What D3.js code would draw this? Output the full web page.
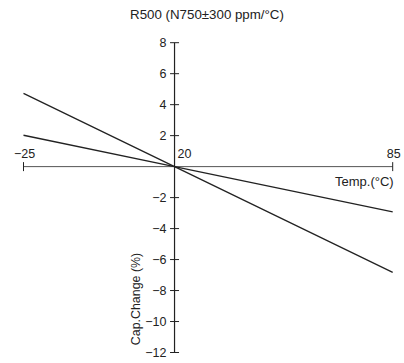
<!DOCTYPE html>
<html><head><meta charset="utf-8">
<script src="https://cdn.jsdelivr.net/npm/d3@7"></script>
<style>body{margin:0;background:#fff}svg{display:block}text{font-family:"Liberation Sans",Arial,sans-serif;fill:#222}</style>
</head><body><svg id="c" width="404" height="363"></svg>
<script>
const title = "R500 (N750±300 ppm/°C)";
const xTicks = [-25, 20, 85];
const yTicks = [8, 6, 4, 2, -2, -4, -6, -8, -10, -12];
const temps = [-25, 20, 85];
const steepLine = [4.725, 0, -6.825];
const shallowLine = [2.025, 0, -2.925];
const xLabel = "Temp.(°C)";
const yLabel = "Cap.Change (%)";

const svg = d3.select("#c");
const x = d3.scaleLinear().domain([-25, 85]).range([23.5, 392.7]);
const y = d3.scaleLinear().domain([-12, 8]).range([352.5, 42.7]);
const x0 = x(20), y0 = y(0);
const ink = "#222";

svg.append("text").attr("x", 207).attr("y", 19).attr("text-anchor", "middle")
  .style("font-size", "13.3px").text(title);

// y axis
const yAxis = svg.append("g");
yAxis.append("line").attr("x1", x0).attr("x2", x0).attr("y1", y(8)).attr("y2", y(-12))
  .attr("stroke", ink).attr("stroke-width", 1.2);
yAxis.selectAll("line.t").data(yTicks).join("line").attr("class", "t")
  .attr("x1", x0 - 4.5).attr("x2", x0 + 4.5).attr("y1", d => y(d)).attr("y2", d => y(d))
  .attr("stroke", ink).attr("stroke-width", 1);
yAxis.selectAll("text").data(yTicks).join("text")
  .attr("x", x0 - 8).attr("y", d => y(d)).attr("dy", "0.36em").attr("text-anchor", "end")
  .style("font-size", "12.5px").text(d => d < 0 ? "\u2212" + Math.abs(d) : d);

// x axis
const xAxis = svg.append("g");
xAxis.append("line").attr("x1", x(-25)).attr("x2", x(85)).attr("y1", y0).attr("y2", y0)
  .attr("stroke", "#555").attr("stroke-width", 1);
xAxis.selectAll("line.t").data([-25, 85]).join("line").attr("class", "t")
  .attr("x1", d => x(d)).attr("x2", d => x(d)).attr("y1", y0 - 4.5).attr("y2", y0 + 4.5)
  .attr("stroke", ink).attr("stroke-width", 1);
xAxis.selectAll("text").data(xTicks).join("text")
  .attr("x", d => d === 20 ? x0 + 3 : x(d) + 1)
  .attr("y", y0 - 9)
  .attr("text-anchor", d => d === 20 ? "start" : "middle")
  .style("font-size", "12.5px").text(d => d < 0 ? "\u2212" + Math.abs(d) : d);
svg.append("text").attr("x", x(85) + 1).attr("y", y0 + 19).attr("text-anchor", "end")
  .style("font-size", "13px").text(xLabel);
svg.append("text").attr("transform", `translate(139.5,${299}) rotate(-90)`)
  .attr("text-anchor", "middle").style("font-size", "12.4px").text(yLabel);

// lines
const line = d3.line().x((d, i) => x(temps[i])).y(d => y(d));
[steepLine, shallowLine].forEach(s => {
  svg.append("path").attr("d", line(s)).attr("fill", "none")
    .attr("stroke", ink).attr("stroke-width", 1.3);
});
</script></body></html>
